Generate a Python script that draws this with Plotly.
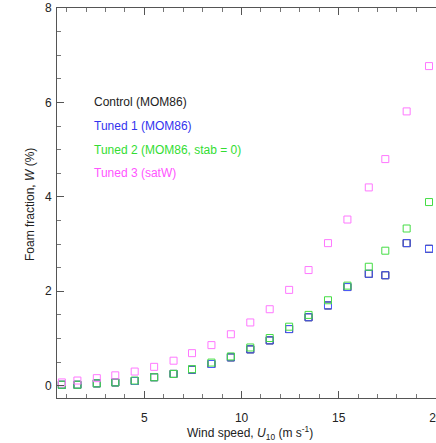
import plotly.graph_objects as go

# Wind speed bins (m/s)
wind = [0.75, 1.55, 2.55, 3.5, 4.5, 5.5, 6.5, 7.45, 8.45, 9.45, 10.45, 11.45,
        12.45, 13.45, 14.45, 15.45, 16.55, 17.4, 18.5, 19.65]

control = [0.02, 0.02, 0.05, 0.07, 0.10, 0.18, 0.25, 0.34, 0.46, 0.60, 0.77, 0.96,
           1.20, 1.45, 1.70, 2.09, 2.37, 2.34, 3.02, 2.90]
tuned1 = [0.02, 0.02, 0.05, 0.07, 0.10, 0.18, 0.25, 0.34, 0.46, 0.60, 0.77, 0.96,
          1.20, 1.45, 1.70, 2.09, 2.37, 2.34, 3.02, 2.90]
tuned2 = [0.02, 0.02, 0.05, 0.07, 0.11, 0.18, 0.25, 0.35, 0.49, 0.62, 0.81, 1.01,
          1.25, 1.50, 1.81, 2.12, 2.52, 2.86, 3.33, 3.89]
tuned3 = [0.07, 0.11, 0.16, 0.22, 0.30, 0.40, 0.53, 0.69, 0.86, 1.09, 1.34, 1.62,
          2.03, 2.45, 3.02, 3.52, 4.20, 4.80, 5.81, 6.77]

series_names = ["Control (MOM86)", "Tuned 1 (MOM86)", "Tuned 2 (MOM86, stab = 0)", "Tuned 3 (satW)"]
marker_colors = ["#000000", "#4d5cff", "#44dd44", "#ff77ff"]
text_colors = ["#222222", "#3333ee", "#33dd33", "#ff55ff"]
label_y = [6.0, 5.5, 5.0, 4.5]

xticks = [5, 10, 15, 20]
yticks = [0, 2, 4, 6, 8]

fig = go.Figure()
for vals, name, col in zip([control, tuned1, tuned2, tuned3], series_names, marker_colors):
    fig.add_trace(go.Scatter(
        x=wind, y=vals, mode="markers", name=name,
        marker=dict(symbol="square-open", size=7, color=col, line=dict(width=1, color=col)),
        showlegend=False, cliponaxis=False))

font_family = "Liberation Sans, Arial, Helvetica, sans-serif"
for name, col, yv in zip(series_names, text_colors, label_y):
    fig.add_annotation(x=2.29, y=yv, xref="x", yref="y", text=name, showarrow=False,
                       xanchor="left", yanchor="middle",
                       font=dict(family=font_family, size=12, color=col))

fig.add_annotation(x=0.509, y=-0.09, xref="paper", yref="paper",
                   text="Wind speed, <i>U</i><sub>10</sub> (m s<sup>-1</sup>)",
                   showarrow=False, xanchor="center", yanchor="middle",
                   font=dict(family=font_family, size=12, color="#222222"))
fig.add_annotation(x=-0.071, y=0.495, xref="paper", yref="paper",
                   text="Foam fraction, <i>W</i> (%)", textangle=-90,
                   showarrow=False, xanchor="center", yanchor="middle",
                   font=dict(family=font_family, size=12, color="#222222"))

axis_common = dict(showgrid=False, zeroline=False, showline=True, linecolor="#555555",
                   linewidth=1, ticks="inside", tickcolor="#555555", tickwidth=1,
                   ticklen=7, tickfont=dict(family=font_family, size=12, color="#222222"),
                   ticklabeloverflow="allow", automargin=False)

fig.update_xaxes(range=[0.5, 20.01], tickvals=xticks, ticktext=[str(v) for v in xticks],
                 mirror="ticks", ticklabelstandoff=9,
                 minor=dict(dtick=1, tick0=0, ticks="inside", ticklen=4, tickcolor="#777777"),
                 **axis_common)
fig.update_yaxes(range=[-0.26, 8.0], tickvals=yticks, ticktext=[str(v) for v in yticks],
                 mirror=False, ticklabelstandoff=2,
                 minor=dict(dtick=0.5, tick0=0, ticks="inside", ticklen=4, tickcolor="#777777"),
                 **axis_common)

fig.update_layout(width=436, height=443, margin=dict(l=57, r=0, t=8, b=45, autoexpand=False),
                  plot_bgcolor="white", paper_bgcolor="white",
                  font=dict(family=font_family, size=12))

fig.write_html("out.html")
